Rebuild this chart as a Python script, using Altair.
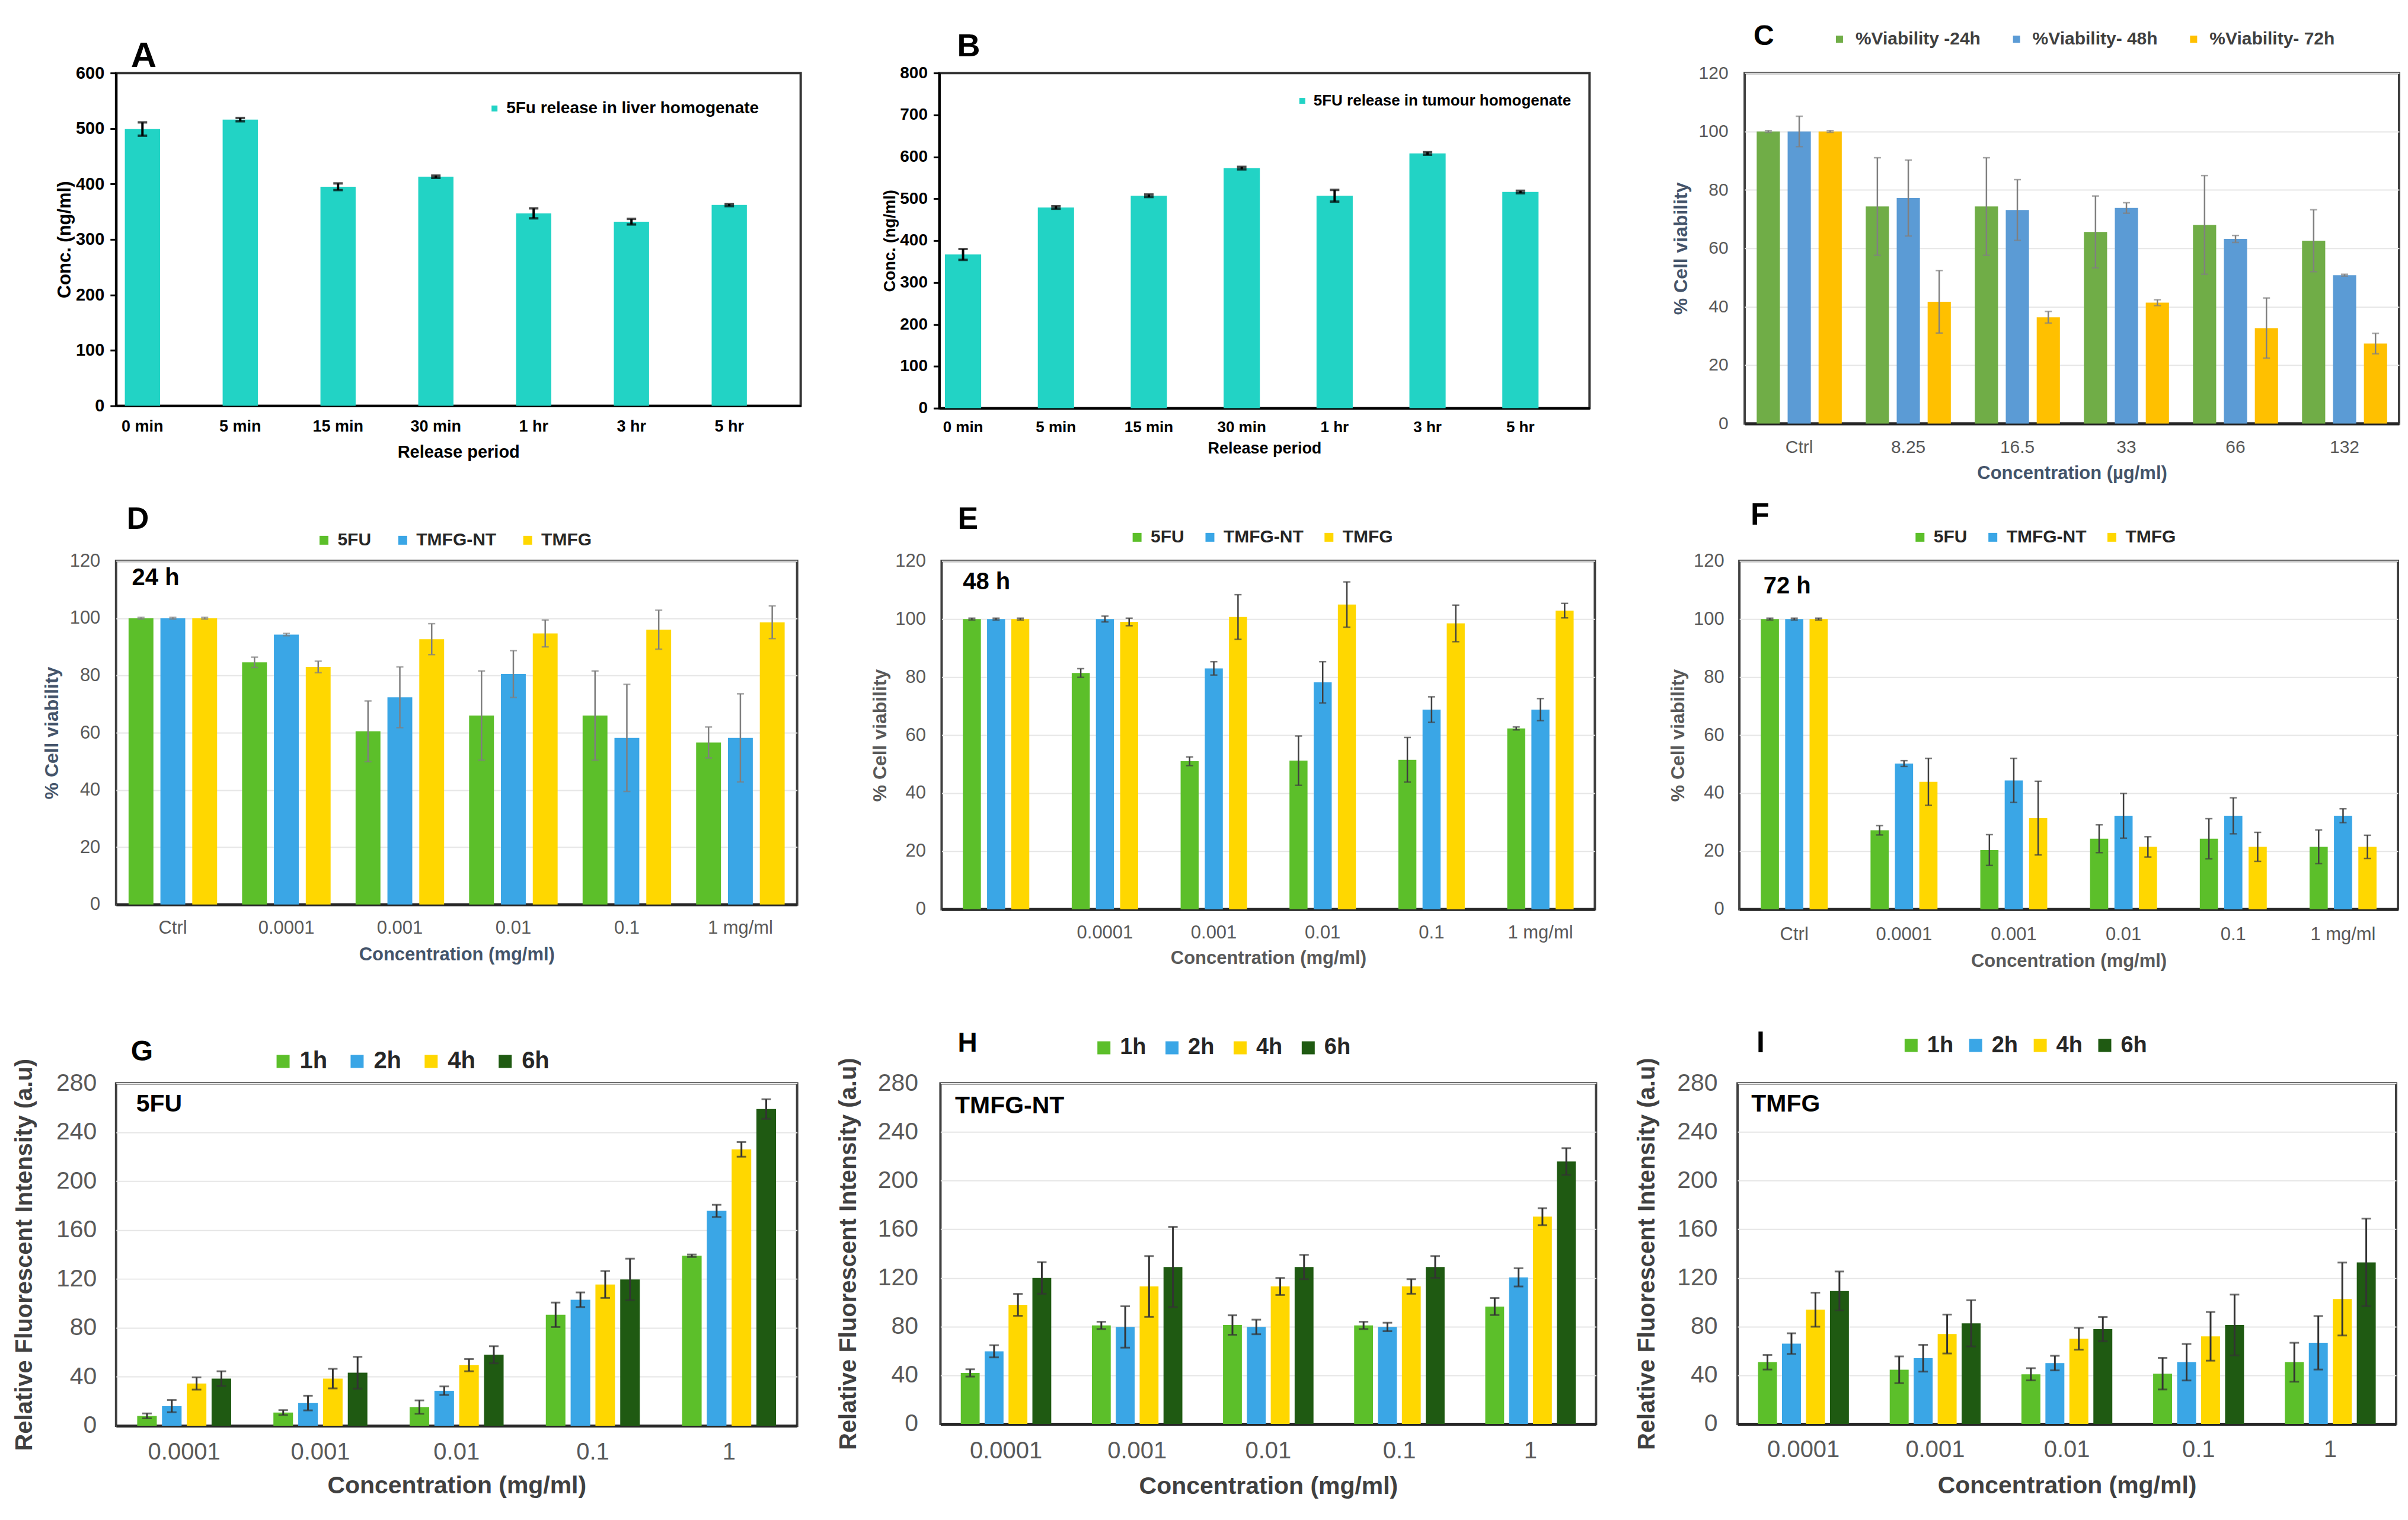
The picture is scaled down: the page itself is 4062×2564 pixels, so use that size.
import altair as alt
import pandas as pd

FONT = "Liberation Sans, Arial, Helvetica, sans-serif"

# ---------------- data ----------------
release_cats = ["0 min", "5 min", "15 min", "30 min", "1 hr", "3 hr", "5 hr"]
a_series = ["5Fu release in liver homogenate"]
a_vals = [499, 516, 395, 413, 347, 332, 362]
a_errs = [12, 3, 6, 2, 9, 5, 2]

b_series = ["5FU release in tumour homogenate"]
b_vals = [367, 479, 507, 573, 507, 608, 516]
b_errs = [13, 3, 3, 3, 14, 3, 3]

c_cats = ["Ctrl", "8.25", "16.5", "33", "66", "132"]
c_series = ["%Viability -24h", "%Viability- 48h", "%Viability- 72h"]
c_24 = [100, 74.3, 74.3, 65.6, 68.0, 62.6]
c_24e = [0.3, 16.7, 16.7, 12.3, 16.9, 10.6]
c_48 = [100, 77.2, 73.1, 73.8, 63.2, 50.8]
c_48e = [5.2, 13.0, 10.4, 1.8, 1.2, 0.3]
c_72 = [100, 41.7, 36.4, 41.4, 32.7, 27.4]
c_72e = [0.3, 10.7, 2.0, 1.0, 10.3, 3.5]

conc_cats = ["Ctrl", "0.0001", "0.001", "0.01", "0.1", "1 mg/ml"]
drug_series = ["5FU", "TMFG-NT", "TMFG"]
d_5fu = [100, 84.6, 60.5, 66.0, 66.0, 56.6]
d_5fue = [0.3, 1.8, 10.6, 15.6, 15.6, 5.4]
d_nt = [100, 94.3, 72.4, 80.5, 58.2, 58.2]
d_nte = [0.3, 0.4, 10.6, 8.2, 18.7, 15.4]
d_tm = [100, 83.0, 92.7, 94.7, 96.0, 98.6]
d_tme = [0.3, 2.0, 5.4, 4.7, 6.8, 5.7]

e_5fu = [100, 81.4, 51.0, 51.2, 51.5, 62.3]
e_5fue = [0.3, 1.5, 1.5, 8.5, 7.7, 0.5]
e_nt = [100, 100, 83.0, 78.2, 68.8, 68.8]
e_nte = [0.3, 1.0, 2.3, 7.1, 4.4, 3.8]
e_tm = [100, 99.0, 100.7, 105.0, 98.5, 102.9]
e_tme = [0.3, 1.3, 7.7, 7.8, 6.3, 2.5]

f_5fu = [100, 27.2, 20.4, 24.3, 24.3, 21.5]
f_5fue = [0.3, 1.6, 5.3, 4.8, 6.9, 5.8]
f_nt = [100, 50.2, 44.4, 32.2, 32.2, 32.2]
f_nte = [0.3, 1.0, 7.6, 7.7, 6.2, 2.4]
f_tm = [100, 43.9, 31.4, 21.5, 21.5, 21.5]
f_tme = [0.3, 8.1, 12.7, 3.5, 5.0, 4.0]

fl_cats = ["0.0001", "0.001", "0.01", "0.1", "1"]
time_series = ["1h", "2h", "4h", "6h"]
g_1h = [8, 10.7, 15.2, 90.7, 139]
g_1he = [2, 2, 5.5, 10, 1]
g_2h = [16, 18.5, 28.6, 103, 175.7]
g_2he = [5, 6, 3.5, 6, 5]
g_4h = [34.5, 38.5, 49.5, 115.5, 226]
g_4he = [5, 8, 5, 11, 6]
g_6h = [38.5, 43.3, 58, 119.6, 259]
g_6he = [6, 13, 7, 17, 8]

h_1h = [41.9, 81, 81.3, 81, 96.5]
h_1he = [3, 3, 8, 3, 7]
h_2h = [59.7, 79.7, 79.7, 79.7, 120.5]
h_2he = [5, 17, 6, 3.5, 7.5]
h_4h = [97.9, 113, 113, 113, 170.4]
h_4he = [9, 25, 7, 6, 7]
h_6h = [120, 129, 129, 129, 215.7]
h_6he = [13, 33, 10, 9, 11]

i_1h = [50.7, 44.5, 40.8, 41.3, 50.7]
i_1he = [6, 11, 5, 13, 16]
i_2h = [66, 54, 50, 50.7, 66.7]
i_2he = [8.5, 11, 6, 15, 22]
i_4h = [93.9, 73.9, 70, 72, 102.7]
i_4he = [14, 16, 9, 20, 30]
i_6h = [109.3, 82.7, 77.9, 81.3, 132.8]
i_6he = [16, 19, 10, 25, 36]

teal = ["#22D3C5"]
c_colors = ["#70AD47", "#5B9BD5", "#FFC000"]
drug_colors = ["#5CBF2A", "#3AA6E6", "#FFD700"]
time_colors = ["#5CBF2A", "#3AA6E6", "#FFD700", "#1F5A12"]


def build_df(cats, series, vals, errs):
    rows = []
    for s, vs, es in zip(series, vals, errs):
        for c, v, e in zip(cats, vs, es):
            rows.append({"cat": c, "series": s, "value": v, "lo": v - e, "hi": v + e})
    return pd.DataFrame(rows)


def panel(df, cats, series, colors, c):
    xscale = alt.Scale(paddingInner=c["pi"], paddingOuter=c["po"], align=c.get("align", 0.5))
    xkw = dict(labelAngle=0, ticks=False, domainColor=c["dcol"], domainWidth=c["dw"],
               labelFont=FONT, labelFontSize=c["xl"], labelFontWeight=c["lw"],
               labelColor=c["lcol"], labelPadding=c["xlp"], titleFont=FONT,
               titleFontSize=c["xt"], titleFontWeight="bold", titleColor=c["tcol"],
               titlePadding=c["xtp"])
    if "lexpr" in c:
        xkw["labelExpr"] = c["lexpr"]
    ykw = dict(values=c["yvals"], labelFont=FONT, labelFontSize=c["yl"],
               labelFontWeight=c["lw"], labelColor=c["lcol"], labelPadding=c["ylp"],
               titleFont=FONT, titleFontSize=c["yt"], titleFontWeight="bold",
               titleColor=c["ytcol"], titlePadding=c["ytp"], grid=c["grid"])
    if c["grid"]:
        ykw.update(gridColor="#E6E6E6", gridWidth=2, ticks=False, domain=False)
    else:
        ykw.update(ticks=True, tickSize=10, tickWidth=3, tickColor="black",
                   domain=True, domainColor="black", domainWidth=4)

    x = alt.X("cat:N", sort=cats, scale=xscale, axis=alt.Axis(**xkw), title=c["xtitle"])
    xo = alt.XOffset("series:N", sort=series, scale=alt.Scale(paddingInner=c["opi"]))
    yscale = alt.Scale(domain=[0, c["ymax"]], nice=False)
    y = alt.Y("value:Q", scale=yscale, axis=alt.Axis(**ykw), title=c["ytitle"])
    legend = alt.Legend(title=None, orient="none", legendX=c["lx"], legendY=c["ly"],
                        direction="horizontal", labelFont=FONT, labelFontSize=c["lf"],
                        labelFontWeight="bold", labelColor=c["lfc"], symbolType="square",
                        symbolSize=c["ss"], symbolStrokeWidth=0, labelOffset=c["lo"],
                        columnPadding=c["cp"], padding=c.get("pad", 0), labelLimit=2000)
    color = alt.Color("series:N", sort=series,
                      scale=alt.Scale(domain=series, range=colors), legend=legend)

    base = alt.Chart(df)
    bars = base.mark_bar().encode(x=x, xOffset=xo, y=y, color=color)
    xr = alt.X("cat:N", sort=cats)
    xor = alt.XOffset("series:N", sort=series)
    rules = base.mark_rule(color=c["ecol"], strokeWidth=c["ew"]).encode(
        x=xr, xOffset=xor, y=alt.Y("lo:Q", title=c["ytitle"]), y2="hi:Q")
    cap_lo = base.mark_tick(color=c["ecol"], thickness=c["ew"], size=c["cap"]).encode(
        x=xr, xOffset=xor, y=alt.Y("lo:Q", title=c["ytitle"]))
    cap_hi = base.mark_tick(color=c["ecol"], thickness=c["ew"], size=c["cap"]).encode(
        x=xr, xOffset=xor, y=alt.Y("hi:Q", title=c["ytitle"]))
    layers = [bars, rules, cap_lo, cap_hi]
    if "inner" in c:
        txt = alt.Chart(pd.DataFrame({"t": [c["inner"]]})).mark_text(
            align="left", baseline="middle", font=FONT, fontSize=c["inf"],
            fontWeight="bold", color="black", dx=c["indx"]).encode(
            x=alt.datum(cats[0]), y=alt.datum(c["iny"]), text="t:N")
        layers.append(txt)
    title = alt.TitleParams(text=c["letter"], anchor="start", frame="group", font=FONT,
                            fontSize=c["lsz"], fontWeight="bold", color="black",
                            dx=c["ldx"], dy=c["ldy"], offset=-c["lshift"],
                            baseline="alphabetic")
    return alt.layer(*layers).properties(
        width=c["w"], height=c["h"], title=title,
        view=alt.ViewBackground(stroke=c["vstroke"], strokeWidth=4))


common_ab = dict(dcol="black", dw=4, lw="bold", lcol="black", tcol="black", ytcol="black",
                 grid=False, opi=0, ecol="black", ew=4, cap=16, lfc="black", ss=100, lo=6,
                 cp=10, vstroke="#333333")
A = panel(build_df(release_cats, a_series, [a_vals], [a_errs]), release_cats, a_series, teal,
          dict(common_ab, letter="A", lsz=60, ldx=25, ldy=-2, lshift=66, w=1156, h=562,
               ymax=600, yvals=list(range(0, 601, 100)), pi=0.64, po=0.32, align=0.14,
               xl=27, xlp=22, xt=29, xtp=16, xtitle="Release period",
               yl=29, ylp=10, yt=31, ytp=2, ytitle="Conc. (ng/ml)",
               lx=625, ly=46, lf=28))
B = panel(build_df(release_cats, b_series, [b_vals], [b_errs]), release_cats, b_series, teal,
          dict(common_ab, letter="B", lsz=54, ldx=30, ldy=-18, lshift=58, w=1098, h=566,
               ymax=800, yvals=list(range(0, 801, 100)), pi=0.61, po=0.305, align=0.1,
               xl=26, xlp=19, xt=27, xtp=10, xtitle="Release period",
               yl=28, ylp=10, yt=27, ytp=2, ytitle="Conc. (ng/ml)",
               lx=600, ly=34, lf=26))

common_v = dict(dcol="#262626", dw=5, lw="normal", lcol="#595959", grid=True,
                yvals=list(range(0, 121, 20)), ymax=120, ew=2.5, cap=12,
                vstroke="#404040", ytitle="% Cell viability")
C = panel(build_df(c_cats, c_series, [c_24, c_48, c_72], [c_24e, c_48e, c_72e]),
          c_cats, c_series, c_colors,
          dict(common_v, letter="C", lsz=48, ldx=15, ldy=23, lshift=50, w=1105, h=592,
               pi=0.22, po=0.11, opi=0.25, xl=30, xlp=25, xt=31, xtp=14,
               xtitle="Concentration (µg/ml)", tcol="#44546A", ytcol="#44546A",
               yl=30, ylp=28, yt=32, ytp=13, ecol="#808080",
               lx=145, ly=-72, lf=30, lfc="#404040", ss=144, lo=12, cp=45))
D = panel(build_df(conc_cats, drug_series, [d_5fu, d_nt, d_tm], [d_5fue, d_nte, d_tme]),
          conc_cats, drug_series, drug_colors,
          dict(common_v, letter="D", lsz=52, ldx=18, ldy=6, lshift=42, w=1150, h=580,
               pi=0.22, po=0.11, opi=0.22, xl=31, xlp=25, xt=31, xtp=15,
               xtitle="Concentration (mg/ml)", tcol="#44546A", ytcol="#44546A",
               yl=31, ylp=27, yt=32, ytp=13, ecol="#7F7F7F",
               lx=336, ly=-50, lf=30, lfc="#262626", ss=225, lo=8, cp=38,
               inner="24 h", inf=40, indx=-69, iny=114))
E = panel(build_df(conc_cats, drug_series, [e_5fu, e_nt, e_tm], [e_5fue, e_nte, e_tme]),
          conc_cats, drug_series, drug_colors,
          dict(common_v, letter="E", lsz=52, ldx=27, ldy=9, lshift=44, w=1103, h=588,
               pi=0.39, po=0.195, opi=0.255, xl=31, xlp=25, xt=31, xtp=13,
               xtitle="Concentration (mg/ml)", tcol="#595959", ytcol="#595959",
               lexpr="datum.label == 'Ctrl' ? '' : datum.label",
               yl=31, ylp=27, yt=32, ytp=8, ecol="#404040",
               lx=315, ly=-55, lf=30, lfc="#262626", ss=225, lo=8, cp=28,
               inner="48 h", inf=40, indx=-56, iny=112.8))
F = panel(build_df(conc_cats, drug_series, [f_5fu, f_nt, f_tm], [f_5fue, f_nte, f_tme]),
          conc_cats, drug_series, drug_colors,
          dict(common_v, letter="F", lsz=52, ldx=19, ldy=-2, lshift=48, w=1112, h=588,
               pi=0.39, po=0.195, opi=0.255, xl=31, xlp=28, xt=31, xtp=15,
               xtitle="Concentration (mg/ml)", tcol="#595959", ytcol="#595959",
               yl=31, ylp=26, yt=32, ytp=9, ecol="#404040",
               lx=290, ly=-55, lf=30, lfc="#262626", ss=225, lo=8, cp=28,
               inner="72 h", inf=40, indx=-52, iny=111.2))

common_f = dict(dcol="#262626", dw=5, lw="normal", lcol="#595959", grid=True,
                yvals=list(range(0, 281, 40)), ymax=280, ew=3, cap=16,
                vstroke="#404040", ytitle="Relative Fluorescent Intensity (a.u)",
                xtitle="Concentration (mg/ml)", tcol="#404040", ytcol="#404040",
                pi=0.31, po=0.155, opi=0.21, xl=40, xt=41, yl=41, yt=40,
                ecol="#333333", lfc="#262626", ss=484, lo=8, pad=78, inf=41)
G = panel(build_df(fl_cats, time_series, [g_1h, g_2h, g_4h, g_6h], [g_1he, g_2he, g_4he, g_6he]),
          fl_cats, time_series, time_colors,
          dict(common_f, letter="G", lsz=48, ldx=25, ldy=93, lshift=52, w=1150, h=578,
               xlp=25, xtp=17, ylp=33, ytp=33, lx=184, ly=-135, lf=40, cp=30,
               inner="5FU", indx=-81, iny=262.7))
H = panel(build_df(fl_cats, time_series, [h_1h, h_2h, h_4h, h_6h], [h_1he, h_2he, h_4he, h_6he]),
          fl_cats, time_series, time_colors,
          dict(common_f, letter="H", lsz=46, ldx=29, ldy=96, lshift=53, w=1107, h=575,
               xlp=26, xtp=20, ylp=38, ytp=29, lx=179, ly=-157, lf=38, cp=24,
               inner="TMFG-NT", indx=-86, iny=261))
I = panel(build_df(fl_cats, time_series, [i_1h, i_2h, i_4h, i_6h], [i_1he, i_2he, i_4he, i_6he]),
          fl_cats, time_series, time_colors,
          dict(common_f, letter="I", lsz=50, ldx=32, ldy=95, lshift=63, w=1112, h=575,
               xlp=24, xtp=21, ylp=34, ytp=30, lx=196, ly=-161, lf=38, cp=18,
               inner="TMFG", indx=-88, iny=262.7))

res = dict(color="independent", xOffset="independent", x="independent", y="independent")
row1 = alt.hconcat(A, B, C, spacing=133).resolve_scale(**res)
row2 = alt.hconcat(D, E, F, spacing=120).resolve_scale(**res)
row3 = alt.hconcat(G, H, I, spacing=62).resolve_scale(**res)

chart = alt.vconcat(row1, row2, row3, spacing=26).resolve_scale(**res).properties(
    padding={"left": 11, "top": 27, "right": 5, "bottom": 4}
).configure(font=FONT, background="white")

chart.save("out.html", embed_options={"renderer": "svg", "actions": False})
